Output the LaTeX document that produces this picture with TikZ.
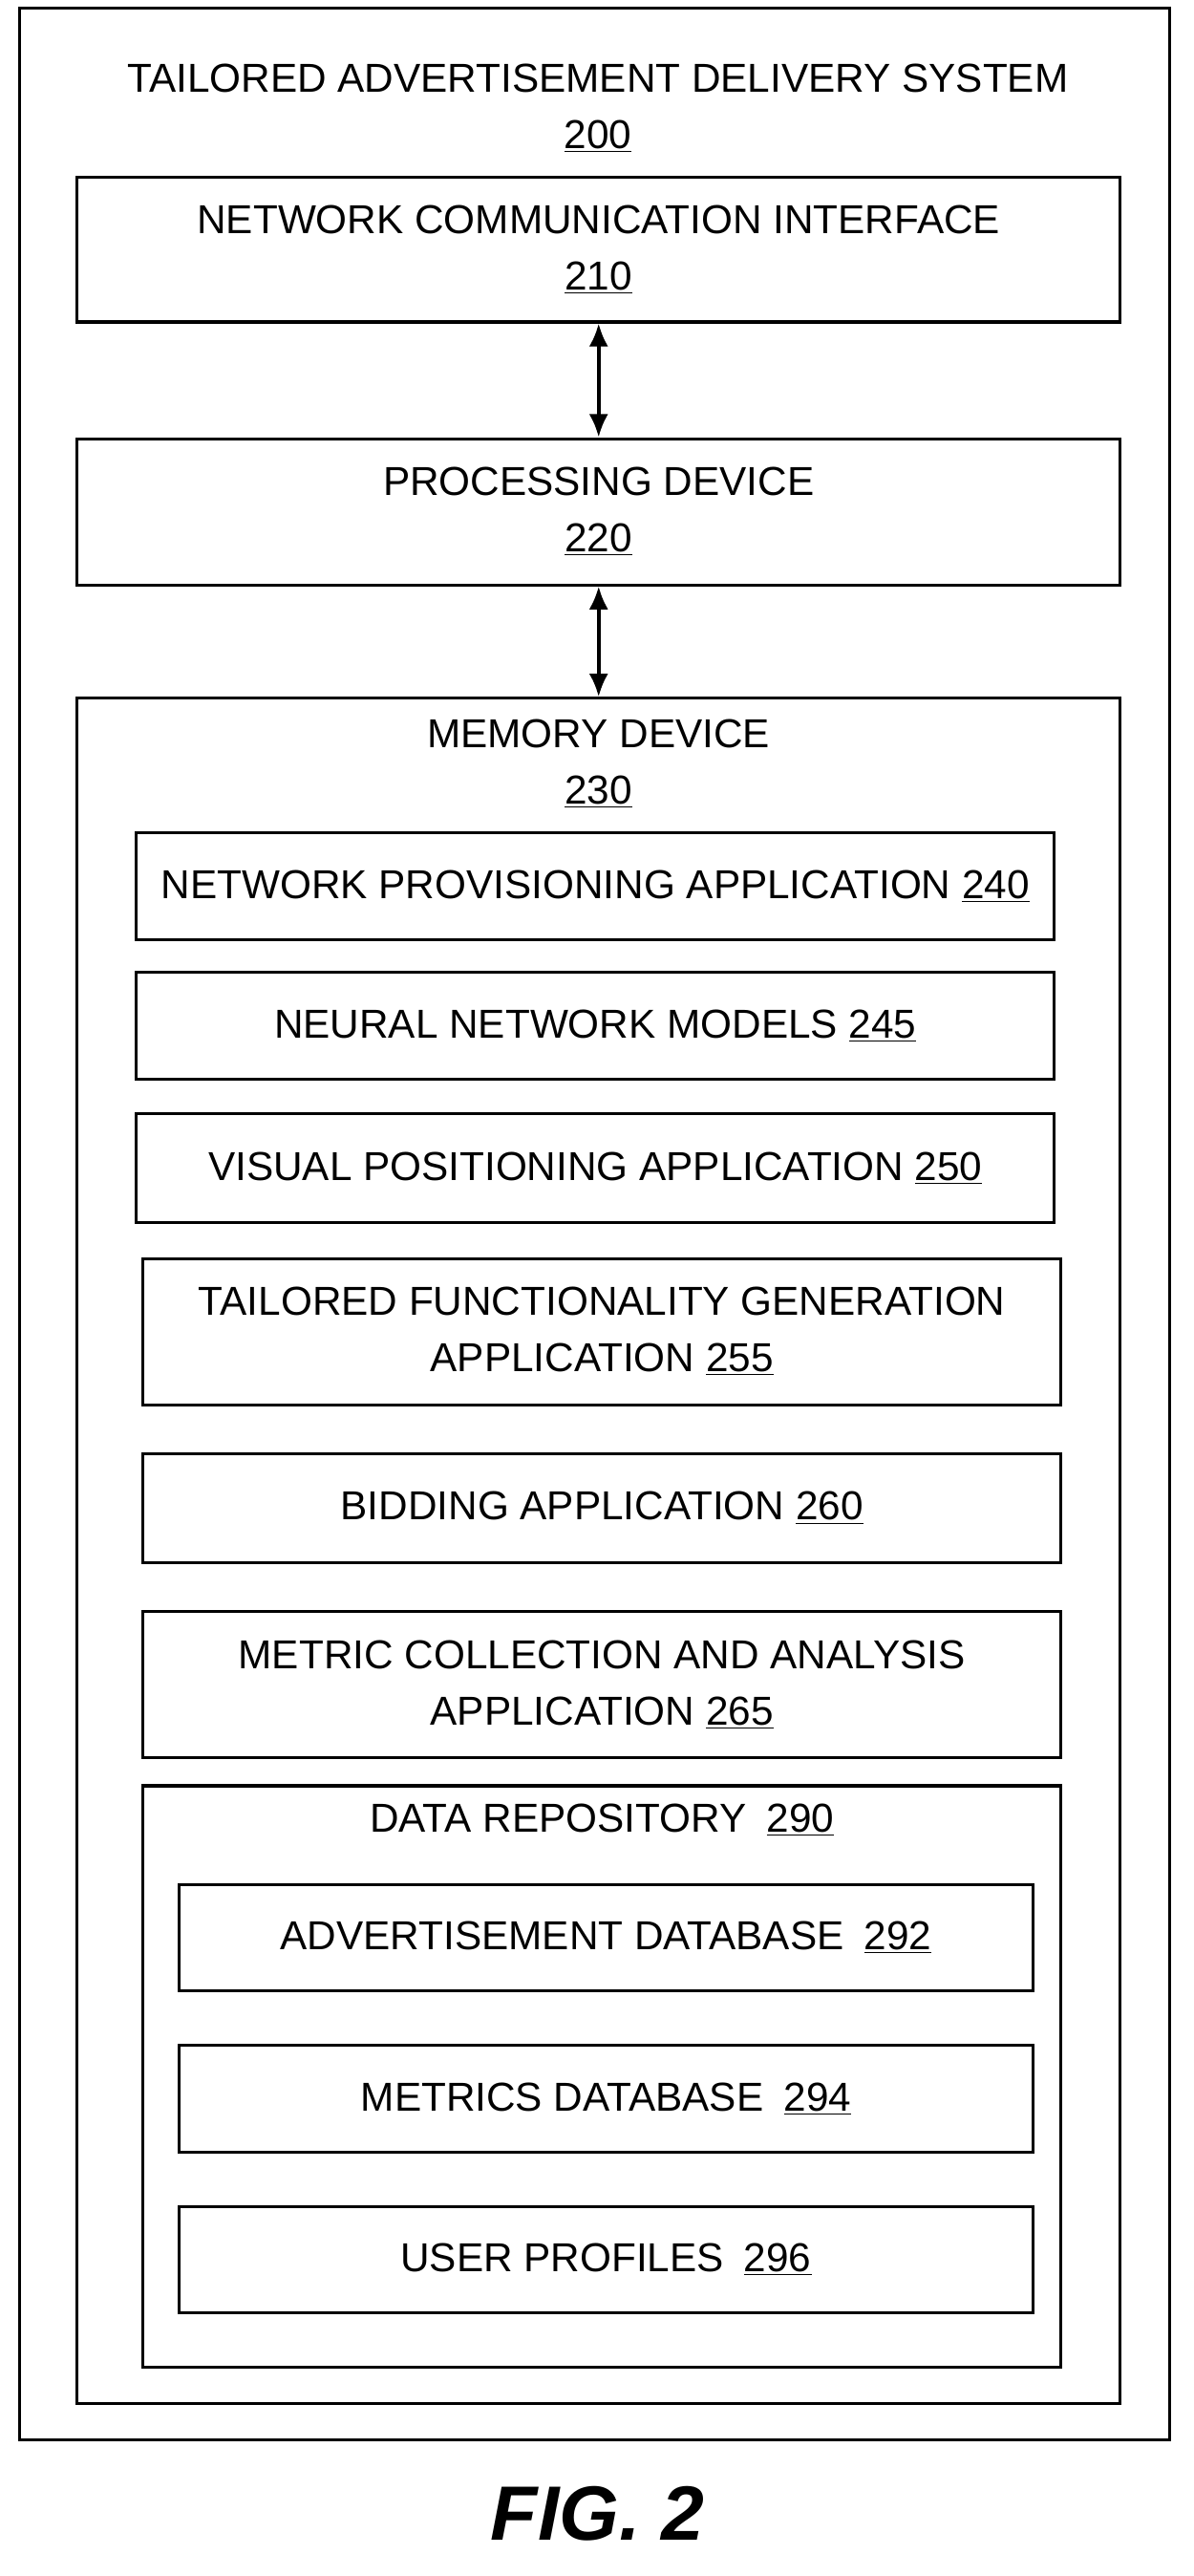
\documentclass[tikz,border=0pt]{standalone}
\usepackage{fontspec}
\setmainfont{Liberation Sans}
\usetikzlibrary{arrows.meta}
\tikzset{
  box/.style 2 args={draw, line width=1.5pt, minimum width=#1*0.03cm, minimum height=#2*0.03cm, inner sep=0pt},
  lbl/.style={align=center, font=\fontsize{21}{29}\selectfont},
  link/.style={{Latex[length=12pt,width=10pt]}-{Latex[length=12pt,width=10pt]}, line width=1.8pt}
}
\begin{document}
\begin{tikzpicture}[x=0.03cm,y=-0.03cm]
    \useasboundingbox (0,0) rectangle (727,1568);
    \node[box={700}{1480}] (sys) at (362,745) {};
    \node[lbl] (systitle) at (364,66) {TAILORED ADVERTISEMENT DELIVERY SYSTEM\\\underline{200}};
    \node[box={635}{88}, lbl] (nci) at (364.5,152) {NETWORK COMMUNICATION INTERFACE\\\underline{210}};
    \node[box={635}{89}, lbl] (proc) at (364.5,311.5) {PROCESSING DEVICE\\\underline{220}};
    \node[box={635}{1038}] (mem) at (364.5,944) {};
    \node[lbl] (memtitle) at (364.5,465) {MEMORY DEVICE\\\underline{230}};
    \node[box={559}{65}, lbl] (app240) at (362.5,539.5) {NETWORK PROVISIONING APPLICATION \underline{240}};
    \node[box={559}{65}, lbl] (app245) at (362.5,624.5) {NEURAL NETWORK MODELS \underline{245}};
    \node[box={559}{66}, lbl] (app250) at (362.5,711) {VISUAL POSITIONING APPLICATION \underline{250}};
    \node[box={559}{89}, lbl] (app255) at (366.5,810.5) {TAILORED FUNCTIONALITY GENERATION\\APPLICATION \underline{255}};
    \node[box={559}{66}, lbl] (app260) at (366.5,918) {BIDDING APPLICATION \underline{260}};
    \node[box={559}{89}, lbl] (app265) at (366.5,1025.5) {METRIC COLLECTION AND ANALYSIS\\APPLICATION \underline{265}};
    \node[box={559}{354}] (repo) at (366.5,1264) {};
    \node[lbl] (repotitle) at (366.5,1108) {DATA REPOSITORY\enspace\underline{290}};
    \node[box={520}{65}, lbl] (db292) at (369,1179.5) {ADVERTISEMENT DATABASE\enspace\underline{292}};
    \node[box={520}{65}, lbl] (db294) at (369,1277.5) {METRICS DATABASE\enspace\underline{294}};
    \node[box={520}{65}, lbl] (db296) at (369,1375.5) {USER PROFILES\enspace\underline{296}};
    \node[font=\fontsize{40}{46}\selectfont\bfseries\itshape] (fig) at (364,1530) {FIG. 2};
    \draw[link] (nci) -- (proc);
    \draw[link] (proc) -- (mem);
\end{tikzpicture}
\end{document}
